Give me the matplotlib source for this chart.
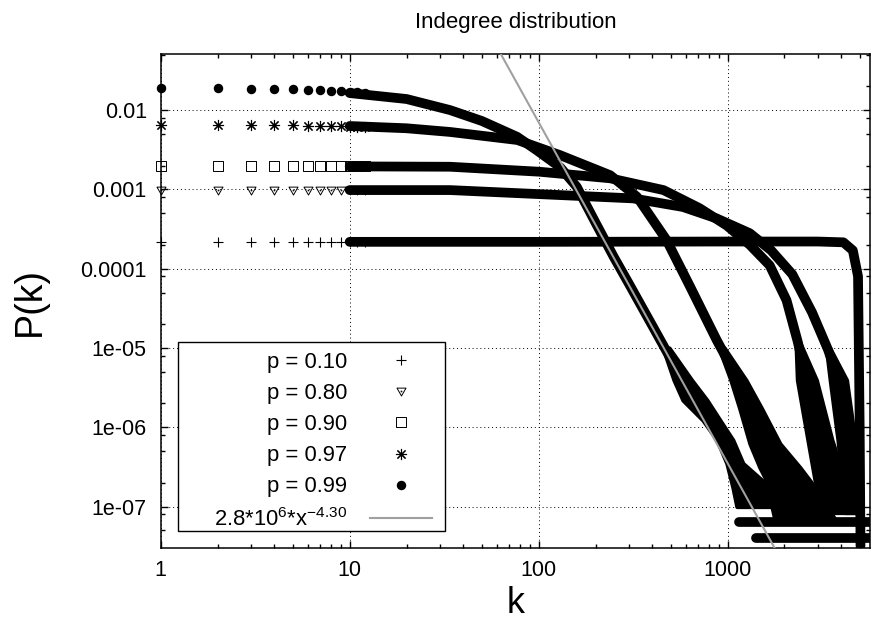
import numpy as np
import matplotlib
matplotlib.use('Agg')
import matplotlib.pyplot as plt
from matplotlib.path import Path
from matplotlib.patches import Rectangle
from matplotlib.ticker import FixedLocator, LogLocator, NullFormatter, FixedFormatter

plt.rcParams['font.family'] = ['Liberation Sans', 'DejaVu Sans']
plt.rcParams['mathtext.fontset'] = 'custom'
plt.rcParams['mathtext.rm'] = 'Liberation Sans'
plt.rcParams['mathtext.it'] = 'Liberation Sans:italic'
plt.rcParams['mathtext.default'] = 'regular'

# ---------------- text ----------------
title = 'Indegree distribution'
x_label = 'k'
y_label = 'P(k)'
series_labels = ['p = 0.10', 'p = 0.80', 'p = 0.90', 'p = 0.97', 'p = 0.99']
fit_label = r'2.8*10$^{6}$*x$^{-4.30}$'

# ---------------- axes ----------------
x_range = [1, 5670]
y_range = [3.0e-8, 0.051]
x_ticks = [1, 10, 100, 1000]
x_tick_labels = ['1', '10', '100', '1000']
y_ticks = [1e-7, 1e-6, 1e-5, 1e-4, 1e-3, 1e-2]
y_tick_labels = ['1e-07', '1e-06', '1e-05', '0.0001', '0.001', '0.01']

# ---------------- fit ----------------
fit_amp = 2.8e6
fit_exp = -4.30

# ---------------- data: discrete low-k points ----------------
k_low = [1, 2, 3, 4, 5, 6, 7, 8, 9, 10, 11, 12]
p010_low = [2.18e-4, 2.18e-4, 2.18e-4, 2.18e-4, 2.18e-4, 2.18e-4, 2.18e-4, 2.18e-4, 2.18e-4, 2.18e-4, 2.18e-4, 2.18e-4]
p080_low = [9.9e-4, 9.9e-4, 9.9e-4, 9.9e-4, 9.9e-4, 9.9e-4, 9.9e-4, 9.8e-4, 9.8e-4, 9.8e-4, 9.8e-4, 9.8e-4]
p090_low = [1.97e-3, 1.97e-3, 1.97e-3, 1.97e-3, 1.97e-3, 1.96e-3, 1.96e-3, 1.96e-3, 1.96e-3, 1.95e-3, 1.95e-3, 1.95e-3]
p097_low = [6.5e-3, 6.5e-3, 6.4e-3, 6.4e-3, 6.4e-3, 6.3e-3, 6.3e-3, 6.3e-3, 6.3e-3, 6.2e-3, 6.2e-3, 6.2e-3]
p099_low = [1.91e-2, 1.91e-2, 1.86e-2, 1.84e-2, 1.82e-2, 1.80e-2, 1.78e-2, 1.75e-2, 1.72e-2, 1.69e-2, 1.67e-2, 1.65e-2]

# ---------------- data: dense bands (read along band centre) ----------------
k_p010 = [10, 100, 1000, 3000, 4100, 4600, 4900, 5000, 5050]
P_p010 = [2.18e-4, 2.18e-4, 2.2e-4, 2.2e-4, 2.15e-4, 1.7e-4, 8e-5, 1e-6, 3.2e-8]

k_p080 = [10, 34, 316, 580, 875, 1310, 1700, 2200, 2800, 3400, 3860]
P_p080 = [9.8e-4, 9.8e-4, 7.7e-4, 6.0e-4, 4.3e-4, 2.8e-4, 1.7e-4, 8.5e-5, 2.8e-5, 9.5e-6, 3.94e-6]

k_p090 = [10, 34, 101, 239, 458, 710, 990, 1310, 1670, 2050, 2350, 2620]
P_p090 = [1.95e-3, 1.93e-3, 1.67e-3, 1.38e-3, 9.8e-4, 5.8e-4, 3.5e-4, 2.0e-4, 1.1e-4, 4.0e-5, 1.2e-5, 3.94e-6]

k_p097 = [10, 20, 34, 77, 130, 239, 331, 475, 634, 875, 1140]
P_p097 = [6.3e-3, 5.9e-3, 5.3e-3, 4.2e-3, 2.7e-3, 1.51e-3, 8.1e-4, 2.3e-4, 5.9e-5, 1.26e-5, 3.94e-6]

k_p099 = [10, 20, 34, 50, 77, 98, 130, 159, 200, 250, 300, 400, 500, 580]
P_p099 = [1.64e-2, 1.38e-2, 1.0e-2, 7.3e-3, 4.6e-3, 3.1e-3, 1.9e-3, 1.08e-3, 3.8e-4, 1.4e-4, 6.5e-5, 1.9e-5, 7.3e-6, 3.94e-6]

# noisy tails: spread of points (left / right k at given P)
P_tail_p099 = [1.0e-5, 3.94e-6, 2.2e-6, 1.23e-6, 6.9e-7, 3.5e-7, 1.75e-7, 1.0e-7]
kl_tail_p099 = [455, 520, 580, 740, 878, 991, 1066, 1119]
kr_tail_p099 = [490, 645, 777, 910, 1066, 1205, 1675, 1780]

P_tail_p097 = [1.0e-5, 3.94e-6, 1.7e-6, 6.2e-7, 3.1e-7, 1.75e-7, 1.0e-7, 6.8e-8]
kl_tail_p097 = [900, 1040, 1161, 1312, 1482, 1675, 1716, 1780]
kr_tail_p097 = [960, 1250, 1518, 1892, 2415, 2898, 3396, 3697]

P_tail_p090 = [1.2e-5, 3.94e-6, 6.9e-7, 2.17e-7, 8.4e-8]
kl_tail_p090 = [2300, 2340, 2660, 2898, 3273]
kr_tail_p090 = [2400, 2950, 3565, 4180, 4713]

P_tail_p080 = [1.0e-5, 3.94e-6, 6.9e-7, 8.4e-8]
kl_tail_p080 = [3330, 3490, 3838, 4180]
kr_tail_p080 = [3470, 4260, 4713, 5130]

# single-count floor rows
k_floor_a = [1150, 5670]
P_floor_a = [6.3e-8, 6.3e-8]
k_floor_b = [1420, 5670]
P_floor_b = [4.0e-8, 4.0e-8]

# ---------------- markers ----------------
def dotted_shape(outer):
    verts = list(outer) + [outer[0]]
    codes = [Path.MOVETO] + [Path.LINETO] * (len(outer) - 1) + [Path.CLOSEPOLY]
    s = 0.08
    inner = [(-s, -s), (s, -s), (s, s), (-s, s), (-s, -s)]
    verts += inner
    codes += [Path.MOVETO, Path.LINETO, Path.LINETO, Path.LINETO, Path.CLOSEPOLY]
    return Path(verts, codes)

square_dot = dotted_shape([(-1, -1), (1, -1), (1, 1), (-1, 1)])
tri_dot = dotted_shape([(-1, 0.75), (1, 0.75), (0, -1.0)])

fig = plt.figure(figsize=(8.73, 6.2), dpi=100)
ax = fig.add_axes([160.7 / 873, (620 - 548) / 620, (870 - 160.7) / 873, (548 - 54) / 620])
ax.set_xscale('log')
ax.set_yscale('log')
ax.set_xlim(*x_range)
ax.set_ylim(*y_range)

band_kw = dict(color='black', lw=7, solid_capstyle='round', solid_joinstyle='round', zorder=3)
for kk, pp in [(k_p010, P_p010), (k_p080, P_p080), (k_p090, P_p090), (k_p097, P_p097), (k_p099, P_p099),
               (k_floor_a, P_floor_a), (k_floor_b, P_floor_b)]:
    ax.plot(kk, pp, **band_kw)

for pp, kl, kr in [(P_tail_p099, kl_tail_p099, kr_tail_p099), (P_tail_p097, kl_tail_p097, kr_tail_p097),
                   (P_tail_p090, kl_tail_p090, kr_tail_p090), (P_tail_p080, kl_tail_p080, kr_tail_p080)]:
    ax.fill_betweenx(pp, kl, kr, color='black', lw=3, edgecolor='black', joinstyle='round', zorder=3)

mk = dict(ls='none', color='black', clip_on=False, zorder=4)
h010, = ax.plot(k_low, p010_low, marker='+', ms=7, mew=0.8, **mk)
h080, = ax.plot(k_low, p080_low, marker=tri_dot, ms=6.5, mew=0.7, mfc='none', **mk)
h090, = ax.plot(k_low, p090_low, marker=square_dot, ms=6.5, mew=0.7, mfc='none', **mk)
h097, = ax.plot(k_low, p097_low, marker=(8, 2, 0), ms=8, mew=0.8, **mk)
h099, = ax.plot(k_low, p099_low, marker='o', ms=5.8, **mk)

fit_x = np.array(x_range, dtype=float)
fit_y = fit_amp * fit_x ** fit_exp
hfit, = ax.plot(fit_x, fit_y, color='#a0a0a0', lw=1.5, zorder=5)

# grid & ticks
ax.xaxis.set_major_locator(FixedLocator(x_ticks))
ax.xaxis.set_major_formatter(FixedFormatter(x_tick_labels))
ax.xaxis.set_minor_locator(LogLocator(base=10, subs=(2, 3, 4, 5, 6, 7, 8, 9), numticks=20))
ax.xaxis.set_minor_formatter(NullFormatter())
ax.yaxis.set_major_locator(FixedLocator(y_ticks))
ax.yaxis.set_major_formatter(FixedFormatter(y_tick_labels))
ax.yaxis.set_minor_locator(LogLocator(base=10, subs=(2, 5, 8), numticks=30))
ax.yaxis.set_minor_formatter(NullFormatter())
ax.grid(True, which='major', color='black', lw=0.7, ls=(0, (1, 3)))
ax.tick_params(which='both', direction='in', top=True, right=True, labelsize=15.5, width=1)
ax.tick_params(which='major', length=5)
ax.tick_params(which='minor', length=3)
ax.tick_params(axis='x', which='major', pad=9)
ax.tick_params(axis='y', which='major', pad=10)
for s in ax.spines.values():
    s.set_linewidth(1.1)
ax.set_axisbelow(True)

ax.set_title(title, fontsize=16, pad=18.5)
ax.set_xlabel(x_label, fontsize=26)
ax.set_ylabel(y_label, fontsize=27)
ax.xaxis.set_label_coords(0.5, -0.112)
ax.xaxis.label.set_va('center')
ax.yaxis.set_label_coords(-0.184, 0.5)
ax.yaxis.label.set_va('center')

# legend frame (gnuplot-style key box) and key entries
ax.add_patch(Rectangle((0.0248, 0.0344), 0.4008 - 0.0248, 0.4176 - 0.0344, transform=ax.transAxes,
                       facecolor='white', edgecolor='black', lw=1.0, zorder=9))
leg = ax.legend([h010, h080, h090, h097, h099, hfit], series_labels + [fit_label],
                loc='lower right', bbox_to_anchor=(0.3821, 0.0354), borderaxespad=0,
                markerfirst=False, fontsize=15.8, handlelength=2.8, handletextpad=1.05,
                labelspacing=0.465, borderpad=0, frameon=False, numpoints=1)
leg.set_zorder(10)

fig.savefig('out.png', dpi=100)
